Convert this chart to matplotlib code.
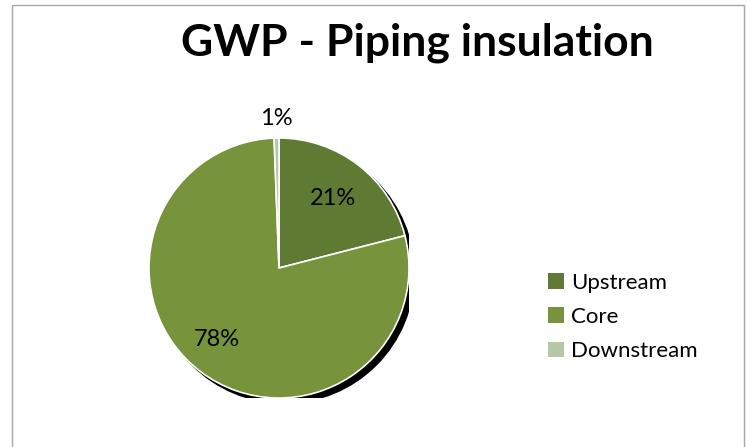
import numpy as np
import matplotlib.pyplot as plt
from matplotlib.patches import Circle, Rectangle

# GWP shares by life-cycle stage (%)
stages = ['Upstream', 'Core', 'Downstream']
shares = [21.0, 78.4, 0.6]
colors = ['#5F7A32', '#77933C', '#B5C7A5']

plt.rcParams['font.family'] = ['Lato', 'DejaVu Sans']

fig = plt.figure(figsize=(7.47, 4.47), dpi=100)
W, H = 747, 447

# chart frame
fig.patches.append(Rectangle((12 / W, -0.05), (744 - 12) / W, 1 - 5 / H + 0.05,
                             transform=fig.transFigure, fill=False,
                             edgecolor='#A6A6A6', linewidth=1.0))

fig.text(417 / W, 1 - 43 / H, 'GWP - Piping insulation', ha='center', va='center',
         fontsize=32, fontweight='bold', color='black')

# pie axes: centre (279, 268) px, radius 130 px
cx, cy, r = 279, 268, 130
ax = fig.add_axes([(cx - r) / W, 1 - (cy + r) / H, 2 * r / W, 2 * r / H])
ax.set_xlim(-1, 1)
ax.set_ylim(-1, 1)
ax.set_aspect('equal')
ax.axis('off')

# shadow
ax.add_patch(Circle((0.04, -0.04), 1.0, color='black', zorder=0))

wedges, texts, autotexts = ax.pie(shares, colors=colors, startangle=90, counterclock=False,
                                  radius=1.0, autopct='%1.0f%%', pctdistance=0.68,
                                  wedgeprops=dict(edgecolor='white', linewidth=1.2),
                                  textprops=dict(fontsize=17, color='black'))
ax.set_xlim(-1, 1)
ax.set_ylim(-1, 1)

# small slice label outside
w = wedges[2]
mid = np.deg2rad((w.theta1 + w.theta2) / 2)
autotexts[2].set_position((1.15 * np.cos(mid), 1.15 * np.sin(mid)))
autotexts[1].set_position((-0.48, -0.55))
for t in autotexts:
    t.set_clip_on(False)

leg = ax.legend(wedges, stages, loc='center left', bbox_to_anchor=(528 / W, 1 - 317 / H),
                bbox_transform=fig.transFigure, frameon=False, fontsize=16,
                handlelength=0.7, handleheight=0.7, handletextpad=0.35, labelspacing=0.65)
for p in leg.get_patches():
    p.set_edgecolor('none')

fig.savefig('out.png', dpi=100)
